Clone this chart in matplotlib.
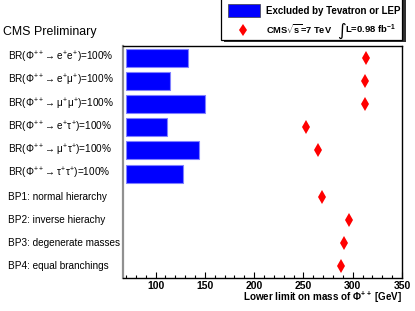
import matplotlib
matplotlib.use("Agg")
import matplotlib.pyplot as plt
from matplotlib.patches import Rectangle
from matplotlib.lines import Line2D
import matplotlib.transforms as mtransforms
import numpy as np

plt.rcParams['font.family'] = ['Liberation Sans', 'DejaVu Sans']
plt.rcParams['mathtext.fontset'] = 'custom'
plt.rcParams['mathtext.rm'] = 'Liberation Sans'
plt.rcParams['mathtext.it'] = 'Liberation Sans:italic'
plt.rcParams['mathtext.bf'] = 'Liberation Sans:bold'

labels = [
    r"BR(Φ$^{++}$→ e$^{+}$e$^{+}$)=100%",
    r"BR(Φ$^{++}$→ e$^{+}$μ$^{+}$)=100%",
    r"BR(Φ$^{++}$→ μ$^{+}$μ$^{+}$)=100%",
    r"BR(Φ$^{++}$→ e$^{+}$τ$^{+}$)=100%",
    r"BR(Φ$^{++}$→ μ$^{+}$τ$^{+}$)=100%",
    r"BR(Φ$^{++}$→ τ$^{+}$τ$^{+}$)=100%",
    "BP1: normal hierarchy",
    "BP2: inverse hierachy",
    "BP3: degenerate masses",
    "BP4: equal branchings",
]
excluded_prev = [133, 115, 150, 112, 144, 128, None, None, None, None]
cms_limits = [313, 312, 312, 253, 265, None, 269, 296, 291, 288]
bar_base = 70
x_ticks_major = [100, 150, 200, 250, 300, 350]

W, H = 415, 311
fig = plt.figure(figsize=(W / 100, H / 100), dpi=100)
ax = fig.add_axes([123 / W, (H - 278) / H, (402 - 123) / W, (278 - 46) / H])

n = len(labels)
ypos = np.arange(n)
for y, v in zip(ypos, excluded_prev):
    if v is not None:
        ax.barh(y, v - bar_base, left=bar_base, height=0.78, color='#0000ff',
                edgecolor='#8080ff', linewidth=0.8, zorder=2)
for y, v in zip(ypos, cms_limits):
    if v is not None:
        ax.plot(v, y, marker='d', color='#ff0000', markersize=7.5,
                markeredgewidth=0, linestyle='none', zorder=3)

ax.set_xlim(67, 350)
ax.set_ylim(n - 0.5, -0.5)
ax.set_yticks([])
ax.set_xticks(x_ticks_major)
ax.set_xticks(np.arange(70, 351, 10), minor=True)
ax.tick_params(axis='x', which='major', direction='in', length=4.5, width=0.8,
               labelsize=7.5, pad=2)
ax.tick_params(axis='x', which='minor', direction='in', length=2.2, width=0.8)
for lab in ax.get_xticklabels():
    lab.set_fontweight('bold')
for s in ['top', 'right', 'bottom']:
    ax.spines[s].set_color('black')
    ax.spines[s].set_linewidth(1.0)
ax.spines['left'].set_color('#909090')
ax.spines['left'].set_linewidth(1.6)

ax.set_xlabel(r"Lower limit on mass of Φ$^{\mathbf{++}}$ [GeV]", fontsize=7.1,
              fontweight='bold', labelpad=1)
ax.xaxis.set_label_coords(1.0, -0.05)
ax.xaxis.label.set_horizontalalignment('right')

trans = mtransforms.blended_transform_factory(fig.transFigure, ax.transData)
for y, lab in zip(ypos, labels):
    ax.text(8 / W, y, lab, transform=trans, ha='left', va='center', fontsize=7.2,
            clip_on=False)

fig.text(3 / W, 1 - 32 / H, "CMS Preliminary", fontsize=8.9, ha='left', va='center')

# legend box (drawn in figure pixel coords)
def fx(px):
    return px / W

def fy(py):
    return 1 - py / H

shadow = Rectangle((fx(224), fy(42)), fx(403 - 221), (42 - (-2)) / H,
                   transform=fig.transFigure, facecolor='#303030', edgecolor='none',
                   zorder=5)
box = Rectangle((fx(221), fy(40)), fx(402 - 221), (40 - (-2)) / H,
                transform=fig.transFigure, facecolor='white', edgecolor='black',
                linewidth=0.9, zorder=6)
fig.patches.extend([shadow, box])
fig.patches.append(Rectangle((fx(228), fy(17)), fx(260 - 228), 13 / H,
                             transform=fig.transFigure, facecolor='#0000ff',
                             edgecolor='#404040', linewidth=0.5, zorder=7))
fig.lines.append(Line2D([fx(243)], [fy(30)], transform=fig.transFigure, marker='d',
                        color='#ff0000', markersize=6.5, markeredgewidth=0,
                        linestyle='none', zorder=7))
fig.text(fx(266.5), fy(10.5), "Excluded by Tevatron or LEP", fontsize=7.0,
         fontweight='bold', ha='left', va='center', zorder=8)
fig.text(fx(266.5), fy(29), r"CMS$\mathbf{\sqrt{s}}$=7 TeV",
         fontsize=6.7, fontweight='bold', ha='left', va='center', zorder=8)
fig.text(fx(337), fy(30.5), "∫", fontsize=12, family='DejaVu Sans',
         ha='left', va='center', zorder=8)
fig.text(fx(345), fy(29), r"L=0.98 fb$^{\mathbf{-1}}$",
         fontsize=6.8, fontweight='bold', ha='left', va='center', zorder=8)

fig.savefig("out.png", dpi=100)
